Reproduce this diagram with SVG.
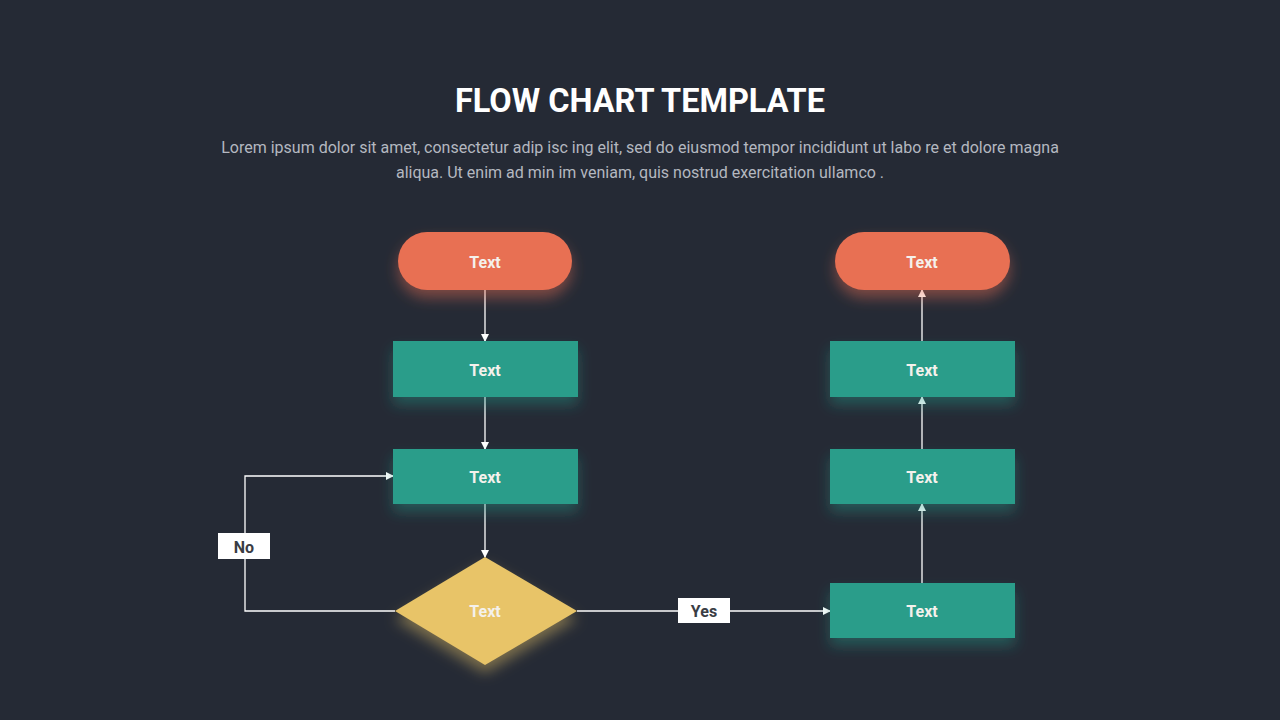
<svg xmlns="http://www.w3.org/2000/svg" width="1280" height="720" viewBox="0 0 1280 720">
<style>
.title{font-family:Roboto,"Liberation Sans",sans-serif;font-weight:700;font-size:32.5px;fill:#ffffff}
.sub{font-family:Roboto,"Liberation Sans",sans-serif;font-size:16px;fill:#b4b8c0}
.lbl{font-family:Roboto,"Liberation Sans",sans-serif;font-weight:700;font-size:16px;fill:#f4f1ec;text-anchor:middle;dominant-baseline:central}
.tag{font-family:Roboto,"Liberation Sans",sans-serif;font-weight:700;font-size:16px;fill:#3a3d44;text-anchor:middle;dominant-baseline:central}
.orange{fill:#e86f52}
.teal{fill:#2a9d8a}
.yellow{fill:#e8c468}
.conn{stroke:#ffffff;stroke-width:1.3;fill:none}
</style>
<defs>
<filter id="glowO" x="-30%" y="-30%" width="160%" height="180%">
<feDropShadow dx="0" dy="8" stdDeviation="7" flood-color="#e86f52" flood-opacity="0.45"/>
</filter>
<filter id="glowT" x="-30%" y="-30%" width="160%" height="180%">
<feDropShadow dx="0" dy="8" stdDeviation="7" flood-color="#2a9d8a" flood-opacity="0.4"/>
</filter>
<filter id="glowY" x="-30%" y="-30%" width="160%" height="180%">
<feDropShadow dx="0" dy="8" stdDeviation="7" flood-color="#e8c468" flood-opacity="0.45"/>
</filter>
<marker id="arr" markerWidth="8" markerHeight="8" refX="7" refY="4" orient="auto" markerUnits="userSpaceOnUse">
<path d="M0,0 L8,4 L0,8 Z" fill="#ffffff"/>
</marker>
</defs>
<rect width="1280" height="720" fill="#252a35"/>
<text class="title" x="640" y="112" text-anchor="middle">FLOW CHART TEMPLATE</text>
<text class="sub" x="640" y="153" text-anchor="middle">Lorem ipsum dolor sit amet, consectetur  adip isc ing elit, sed do eiusmod tempor incididunt ut labo re et dolore magna</text>
<text class="sub" x="640" y="178" text-anchor="middle">aliqua. Ut enim ad min im veniam, quis nostrud exercitation ullamco .</text>

<g id="connectors">
<line class="conn" x1="485" y1="290" x2="485" y2="341" marker-end="url(#arr)"/>
<line class="conn" x1="485" y1="397" x2="485" y2="449" marker-end="url(#arr)"/>
<line class="conn" x1="485" y1="504" x2="485" y2="557" marker-end="url(#arr)"/>
<polyline class="conn" points="395,611 245,611 245,476 393,476" marker-end="url(#arr)"/>
<line class="conn" x1="577" y1="611" x2="830" y2="611" marker-end="url(#arr)"/>
<line class="conn" x1="922" y1="583" x2="922" y2="504" marker-end="url(#arr)"/>
<line class="conn" x1="922" y1="449" x2="922" y2="397" marker-end="url(#arr)"/>
<line class="conn" x1="922" y1="341" x2="922" y2="290" marker-end="url(#arr)"/>
<g id="label-no">
<rect x="218" y="533" width="52" height="26" fill="#ffffff"/>
<text class="tag" x="244" y="547">No</text>
</g>
<g id="label-yes">
<rect x="678" y="598" width="52" height="25" fill="#ffffff"/>
<text class="tag" x="704" y="611">Yes</text>
</g>
</g>

<g id="start">
<rect class="orange" x="398" y="232" width="174" height="58" rx="29" filter="url(#glowO)"/>
<text class="lbl" x="485" y="262">Text</text>
</g>
<g id="step1">
<rect class="teal" x="393" y="341" width="185" height="56" filter="url(#glowT)"/>
<text class="lbl" x="485" y="370">Text</text>
</g>
<g id="step2">
<rect class="teal" x="393" y="449" width="185" height="55" filter="url(#glowT)"/>
<text class="lbl" x="485" y="477">Text</text>
</g>
<g id="decision">
<polygon class="yellow" points="485,557 577,611 485,665 395,611" filter="url(#glowY)"/>
<text class="lbl" x="485" y="611">Text</text>
</g>
<g id="step3">
<rect class="teal" x="830" y="583" width="185" height="55" filter="url(#glowT)"/>
<text class="lbl" x="922" y="611">Text</text>
</g>
<g id="step4">
<rect class="teal" x="830" y="449" width="185" height="55" filter="url(#glowT)"/>
<text class="lbl" x="922" y="477">Text</text>
</g>
<g id="step5">
<rect class="teal" x="830" y="341" width="185" height="56" filter="url(#glowT)"/>
<text class="lbl" x="922" y="370">Text</text>
</g>
<g id="end">
<rect class="orange" x="835" y="232" width="175" height="58" rx="29" filter="url(#glowO)"/>
<text class="lbl" x="922" y="262">Text</text>
</g>
</svg>
